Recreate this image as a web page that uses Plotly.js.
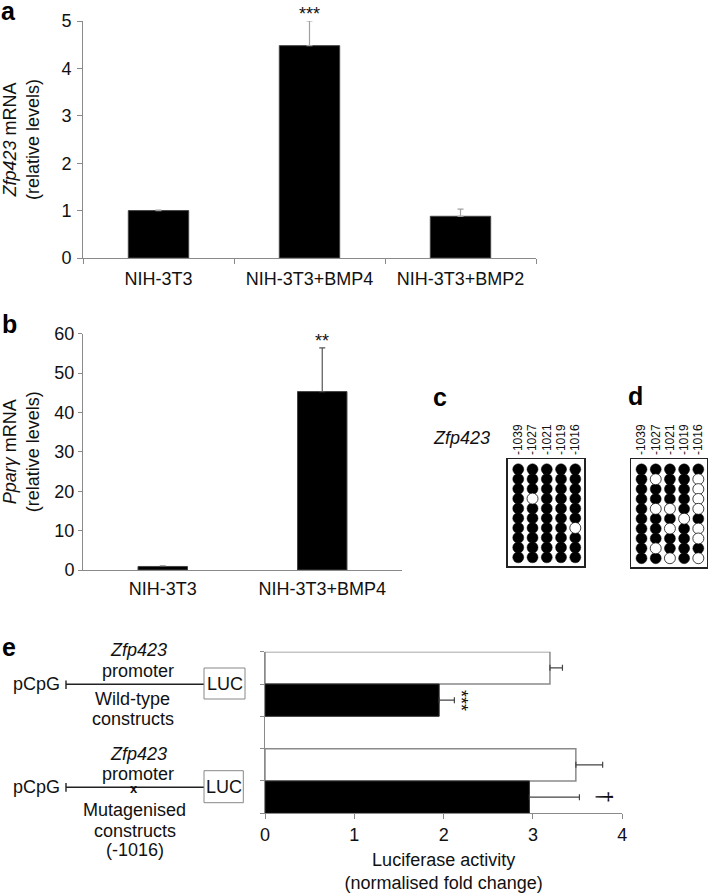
<!DOCTYPE html>
<html>
<head>
<meta charset="utf-8">
<script src="https://cdn.plot.ly/plotly-3.0.1.min.js"></script>
<style>
  html, body { margin: 0; padding: 0; background: #fff; }
  #plot { width: 708px; height: 893px; }
</style>
</head>
<body>
<div id="plot"></div>
<script>
const W = 708;
const H = 893;
const FONT = "Liberation Sans, Arial, Helvetica, sans-serif";

// panel a
const aCategories = ["NIH-3T3", "NIH-3T3+BMP4", "NIH-3T3+BMP2"];
const aValues = [1.0, 4.48, 0.88];
const aErrors = [0.01, 0.52, 0.15];

// panel b
const bCategories = ["NIH-3T3", "NIH-3T3+BMP4"];
const bValues = [0.9, 45.3];
const bErrors = [0.1, 11.1];

// panels c and d: one row per clone, 1 = filled circle, 0 = open circle
const cpgSites = ["-1039", "-1027", "-1021", "-1019", "-1016"];
const cClones = [
    [1, 1, 1, 1, 1],
    [1, 1, 1, 1, 1],
    [1, 1, 1, 1, 1],
    [1, 0, 1, 1, 1],
    [1, 1, 1, 1, 1],
    [1, 1, 1, 1, 1],
    [1, 1, 1, 1, 0],
    [1, 1, 1, 1, 1],
    [1, 1, 1, 1, 1],
    [1, 1, 1, 1, 1]
];
const dClones = [
    [1, 1, 1, 1, 1],
    [1, 0, 1, 1, 0],
    [1, 1, 1, 1, 0],
    [1, 1, 1, 1, 0],
    [1, 0, 0, 1, 0],
    [1, 1, 1, 0, 1],
    [1, 1, 0, 1, 0],
    [1, 1, 1, 1, 0],
    [1, 0, 1, 1, 1],
    [1, 1, 0, 1, 0]
];

// panel e: wild-type and mutagenised constructs
const eOpenValues = [3.19, 3.48];
const eOpenErrors = [0.14, 0.30];
const eFilledValues = [1.95, 2.96];
const eFilledErrors = [0.17, 0.56];

const px = (x) => x / W;
const py = (y) => 1 - y / H;
const zeros = (n) => new Array(n).fill(0);

function errorBar(errors, color) {
    return {
        type: "data",
        symmetric: false,
        array: errors,
        arrayminus: zeros(errors.length),
        color: color,
        thickness: 1.2,
        width: 3
    };
}

function cloneTrace(clones, state, axisIndex) {
    const x = [];
    const y = [];
    clones.forEach((row, r) => {
        row.forEach((v, c) => {
            if (v === state) {
                x.push(c);
                y.push(r);
            }
        });
    });
    return {
        type: "scatter",
        mode: "markers",
        x: x,
        y: y,
        xaxis: "x" + axisIndex,
        yaxis: "y" + axisIndex,
        marker: {
            size: 11,
            color: state === 1 ? "#000" : "#fff",
            line: { color: "#111", width: state === 1 ? 0.5 : 0.8 }
        },
        hoverinfo: "skip"
    };
}

const traces = [
    {
        type: "bar",
        x: aCategories,
        y: aValues,
        width: 0.4,
        marker: { color: "#000", line: { color: "#444", width: 1 } },
        error_y: errorBar(aErrors, "#a0a0a0"),
        xaxis: "x",
        yaxis: "y"
    },
    {
        type: "bar",
        x: bCategories,
        y: bValues,
        width: 0.31,
        marker: { color: "#000", line: { color: "#444", width: 1 } },
        error_y: errorBar(bErrors, "#555"),
        xaxis: "x2",
        yaxis: "y2"
    },
    cloneTrace(cClones, 1, 3),
    cloneTrace(cClones, 0, 3),
    cloneTrace(dClones, 1, 4),
    cloneTrace(dClones, 0, 4),
    {
        type: "bar",
        orientation: "h",
        name: "open",
        x: eOpenValues,
        y: [4, 1],
        width: 1,
        marker: { color: "#fff", line: { color: "#8a8a8a", width: 1.5 } },
        error_x: errorBar(eOpenErrors, "#444"),
        xaxis: "x5",
        yaxis: "y5"
    },
    {
        type: "bar",
        orientation: "h",
        name: "filled",
        x: eFilledValues,
        y: [3, 0],
        width: 1,
        marker: { color: "#000", line: { color: "#333", width: 1 } },
        error_x: errorBar(eFilledErrors, "#444"),
        xaxis: "x5",
        yaxis: "y5"
    }
];

const tickFont = { family: FONT, size: 18, color: "#111" };
const axisGrey = "#8a8a8a";

const baseAxis = {
    showgrid: false,
    zeroline: false,
    showline: true,
    linecolor: axisGrey,
    linewidth: 1,
    tickcolor: axisGrey,
    tickfont: tickFont,
    fixedrange: true
};

const boxAxis = {
    showgrid: false,
    zeroline: false,
    showline: true,
    mirror: true,
    linecolor: "#222",
    linewidth: 1.5,
    ticks: "",
    fixedrange: true
};

function text(t, x, y, opts) {
    return Object.assign({
        xref: "paper",
        yref: "paper",
        x: px(x),
        y: py(y),
        text: t,
        showarrow: false,
        xanchor: "center",
        yanchor: "middle",
        font: { family: FONT, size: 18, color: "#111" }
    }, opts || {});
}

const bold = { family: FONT, size: 25, color: "#000", weight: "bold" };

const annotations = [
    text("<b>a</b>", 0, 11, { xanchor: "left", font: bold, borderpad: 0 }),
    text("<b>b</b>", 0, 324, { xanchor: "left", font: bold }),
    text("<b>c</b>", 431, 397, { xanchor: "left", font: bold }),
    text("<b>d</b>", 626, 396, { xanchor: "left", font: bold }),
    text("<b>e</b>", 0, 647, { xanchor: "left", font: bold }),
    text("<i>Zfp423</i>", 461, 438),
    {
        xref: "x", yref: "y", x: aCategories[1], y: aValues[1] + aErrors[1],
        text: "***", showarrow: false, yanchor: "bottom", yshift: -5,
        font: { family: FONT, size: 18, color: "#111" }
    },
    {
        xref: "x2", yref: "y2", x: bCategories[1], y: bValues[1] + bErrors[1],
        text: "**", showarrow: false, yanchor: "bottom", yshift: -5,
        font: { family: FONT, size: 18, color: "#111" }
    },
    {
        xref: "x5", yref: "y5", x: eFilledValues[0] + eFilledErrors[0] + 0.075, y: 3,
        text: "***", showarrow: false, textangle: 90, xanchor: "center", yanchor: "middle",
        font: { family: FONT, size: 18, color: "#111" }
    },
    {
        xref: "x5", yref: "y5", x: eFilledValues[1] + eFilledErrors[1] + 0.28, y: 0,
        text: "†", showarrow: false, textangle: 90, xanchor: "center", yanchor: "middle",
        font: { family: FONT, size: 22, color: "#111" }
    },
    // construct diagram labels
    text("<i>Zfp423</i>", 138, 650),
    text("promoter", 137.5, 671),
    text("pCpG", 62, 684, { xanchor: "right" }),
    text("LUC", 224.5, 684),
    text("Wild-type", 132, 699),
    text("constructs", 132.5, 719),
    text("<i>Zfp423</i>", 138, 754),
    text("promoter", 137.5, 774),
    text("pCpG", 62, 787, { xanchor: "right" }),
    text("LUC", 223.5, 786.5),
    text("x", 133.7, 788, { font: { family: FONT, size: 13, color: "#111", weight: "bold" }, borderpad: 0 }),
    text("Mutagenised", 134, 810),
    text("constructs", 134.7, 831),
    text("(-1016)", 135, 850)
];

const lineStyle = { color: "#222", width: 1.4 };
const boxStyle = { color: "#888", width: 1 };

const shapes = [
    { type: "line", xref: "paper", yref: "paper", x0: px(66), x1: px(204), y0: py(684.3), y1: py(684.3), line: lineStyle },
    { type: "line", xref: "paper", yref: "paper", x0: px(66), x1: px(66), y0: py(680.5), y1: py(689), line: lineStyle },
    { type: "rect", xref: "paper", yref: "paper", x0: px(204), x1: px(245), y0: py(668), y1: py(699), line: boxStyle },
    { type: "line", xref: "paper", yref: "paper", x0: px(66), x1: px(204), y0: py(787.3), y1: py(787.3), line: lineStyle },
    { type: "line", xref: "paper", yref: "paper", x0: px(66), x1: px(66), y0: py(783), y1: py(791.7), line: lineStyle },
    { type: "rect", xref: "paper", yref: "paper", x0: px(204), x1: px(243.3), y0: py(770.7), y1: py(802.7), line: boxStyle }
];

const layout = {
    width: W,
    height: H,
    margin: { l: 0, r: 0, t: 0, b: 0 },
    paper_bgcolor: "#fff",
    plot_bgcolor: "rgba(0,0,0,0)",
    showlegend: false,
    font: { family: FONT, size: 18, color: "#111" },
    xaxis: Object.assign({}, baseAxis, {
        domain: [px(83), px(536)],
        anchor: "y",
        type: "category",
        range: [-0.5, 2.5],
        ticks: "outside",
        tickson: "boundaries",
        ticklen: 5,
        ticklabelstandoff: 4
    }),
    yaxis: Object.assign({}, baseAxis, {
        domain: [py(258), py(21)],
        anchor: "x",
        range: [0, 5],
        dtick: 1,
        ticks: "outside",
        ticklen: 5,
        ticklabelstandoff: 2,
        title: { text: "<i>Zfp423</i> mRNA<br>(relative levels)", font: { family: FONT, size: 18, color: "#111" }, standoff: 20 }
    }),
    xaxis2: Object.assign({}, baseAxis, {
        domain: [px(83), px(402)],
        anchor: "y2",
        type: "category",
        range: [-0.5, 1.5],
        ticks: "",
        ticklabelstandoff: 2
    }),
    yaxis2: Object.assign({}, baseAxis, {
        domain: [py(570), py(333.7)],
        anchor: "x2",
        range: [0, 60],
        dtick: 10,
        ticks: "outside",
        ticklen: 4,
        title: { text: "<i>Pparγ</i> mRNA<br>(relative levels)", font: { family: FONT, size: 18, color: "#111" }, standoff: 20 }
    }),
    xaxis3: Object.assign({}, boxAxis, {
        domain: [px(507.7), px(584)],
        anchor: "y3",
        range: [-0.74, 4.61],
        side: "top",
        tickmode: "array",
        tickvals: [0, 1, 2, 3, 4],
        ticktext: cpgSites,
        tickangle: -90,
        tickfont: { family: FONT, size: 12, color: "#111" }
    }),
    yaxis3: Object.assign({}, boxAxis, {
        domain: [py(566), py(459)],
        anchor: "x3",
        range: [9.89, -1.05],
        showticklabels: false
    }),
    xaxis4: Object.assign({}, boxAxis, {
        domain: [px(631), px(707)],
        anchor: "y4",
        range: [-0.74, 4.61],
        side: "top",
        tickmode: "array",
        tickvals: [0, 1, 2, 3, 4],
        ticktext: cpgSites,
        tickangle: -90,
        tickfont: { family: FONT, size: 12, color: "#111" }
    }),
    yaxis4: Object.assign({}, boxAxis, {
        domain: [py(567), py(459)],
        anchor: "x4",
        range: [9.89, -1.05],
        showticklabels: false
    }),
    xaxis5: Object.assign({}, baseAxis, {
        domain: [px(265), px(622.3)],
        anchor: "y5",
        range: [0, 4],
        dtick: 1,
        ticks: "outside",
        ticklen: 5,
        title: { text: "Luciferase activity<br>(normalised fold change)", font: { family: FONT, size: 18, color: "#111" }, standoff: 14 }
    }),
    yaxis5: Object.assign({}, baseAxis, {
        domain: [py(813.3), py(651.7)],
        anchor: "x5",
        range: [-0.5, 4.5],
        tickmode: "array",
        tickvals: [-0.5, 0.5, 1.5, 2.5, 3.5, 4.5],
        showticklabels: false,
        ticks: "outside",
        ticklen: 4
    }),
    annotations: annotations,
    shapes: shapes
};

Plotly.newPlot("plot", traces, layout, { displayModeBar: false, staticPlot: true });
</script>
</body>
</html>
